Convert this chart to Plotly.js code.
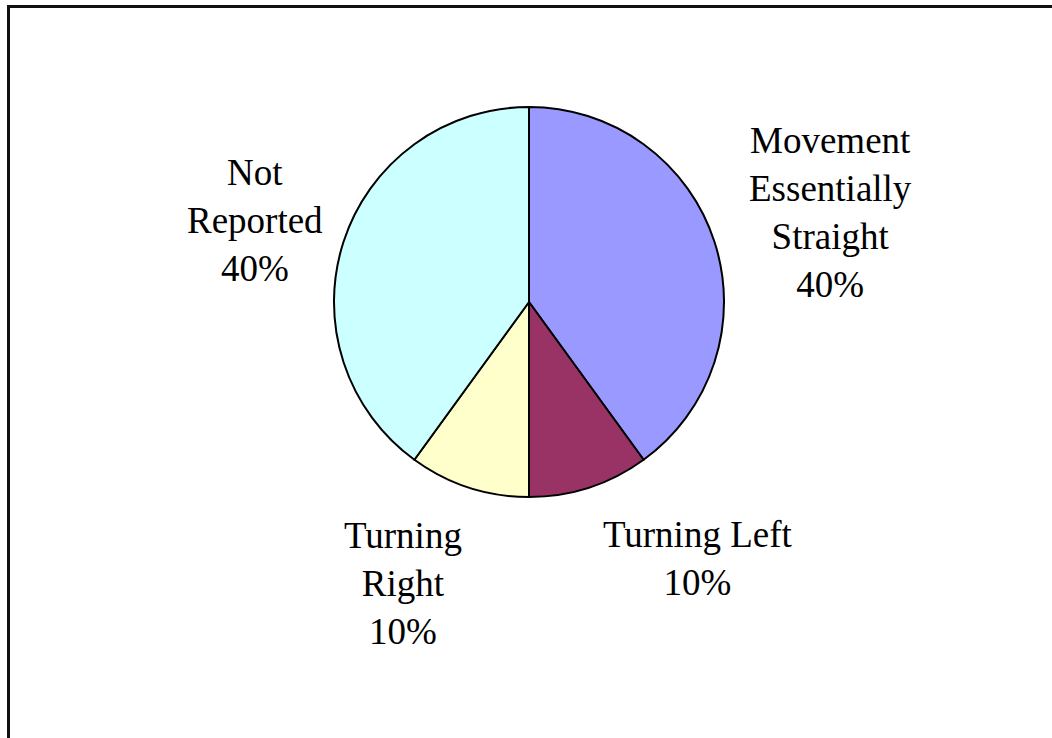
<!DOCTYPE html>
<html>
<head>
<meta charset="utf-8">
<script src="https://cdn.plot.ly/plotly-3.0.1.min.js"></script>
<style>html,body{margin:0;padding:0;background:#fff;}#chart{width:1052px;height:738px;}</style>
</head>
<body>
<div id="chart"></div>
<script>
const categories = ["Movement Essentially Straight", "Turning Left", "Turning Right", "Not Reported"];
const labelLines = ["Movement<br>Essentially<br>Straight", "Turning Left", "Turning<br>Right", "Not<br>Reported"];
const values = [40, 10, 10, 40];
const colors = ["#9999FF", "#993366", "#FFFFCC", "#CCFFFF"];

const W = 1052, H = 738;
const total = values.reduce((a, b) => a + b, 0);
const pct = values.map(v => Math.round(v / total * 100) + "%");

// label anchor positions in pixels (centre of each text block)
const labelPos = [[830, 213], [697, 558], [403, 583], [255, 220]];

const cx = 529, cy = 302, r = 195;

const trace = {
  type: "pie",
  labels: categories,
  values: values,
  sort: false,
  direction: "clockwise",
  rotation: 0,
  marker: { colors: colors, line: { color: "#000000", width: 2 } },
  textinfo: "none",
  hoverinfo: "label+percent",
  showlegend: false,
  domain: { x: [(cx - r) / W, (cx + r) / W], y: [(H - cy - r) / H, (H - cy + r) / H] }
};

const annotations = categories.map((c, i) => ({
  xref: "paper", yref: "paper",
  x: labelPos[i][0] / W, y: 1 - labelPos[i][1] / H,
  xanchor: "center", yanchor: "middle",
  text: labelLines[i] + "<br>" + pct[i],
  showarrow: false,
  align: "center",
  font: { family: "Liberation Serif, Times New Roman, serif", size: 37, color: "#000" }
}));

const layout = {
  width: W, height: H,
  margin: { l: 0, r: 0, t: 0, b: 0 },
  paper_bgcolor: "#ffffff",
  showlegend: false,
  annotations: annotations,
  shapes: [{
    type: "rect", xref: "paper", yref: "paper",
    x0: 8.5 / W, x1: 1.02, y0: -0.02, y1: 1 - 6.5 / H,
    line: { color: "#111", width: 3 }, fillcolor: "rgba(0,0,0,0)"
  }]
};

Plotly.newPlot("chart", [trace], layout, { displayModeBar: false, staticPlot: true });
</script>
</body>
</html>
